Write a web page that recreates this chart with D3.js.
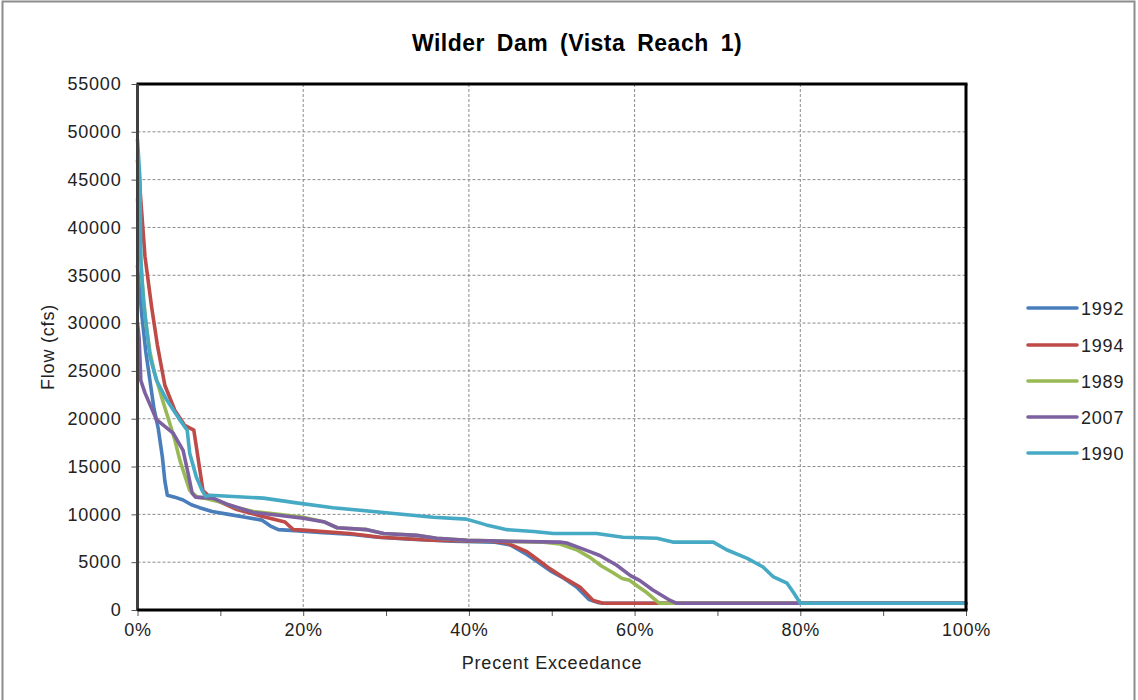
<!DOCTYPE html>
<html><head><meta charset="utf-8">
<script src="https://cdn.jsdelivr.net/npm/d3@7"></script>
<style>body{margin:0;background:#fff;}svg{display:block;font-family:"Liberation Sans",Arial,sans-serif;}</style>
</head><body><svg id="c" width="1138" height="700"></svg>
<script>
const seriesNames = ["1992","1994","1989","2007","1990"];
const seriesColors = ["#4A7EBB","#BE4B48","#98B954","#7D60A0","#46AAC5"];
const yTicks = [0,5000,10000,15000,20000,25000,30000,35000,40000,45000,50000,55000];
const xTickLabels = ["0%","20%","40%","60%","80%","100%"];
// [percent exceedance, flow cfs]
const s1992 = [[0,36000],[0.5,31000],[1,27000],[1.5,24000],[2,21000],[2.5,19000],[3,16000],[3.3,13500],[3.6,12000],[4.5,11800],[5.5,11500],[6.5,11000],[7.5,10700],[9,10300],[11,10000],[13,9700],[15,9400],[16,8800],[17,8400],[19,8300],[22,8100],[26,7900],[29,7600],[33,7400],[38,7200],[43,7100],[45,6800],[47,5800],[48.5,4900],[50,4000],[51.5,3300],[53,2400],[54.5,1100],[55.5,800],[56.2,700],[100,700]];
const s1994 = [[0,47000],[0.3,44000],[0.9,37000],[1.7,31700],[2.4,27700],[3.3,23500],[4.5,20900],[5.7,19300],[6.8,18800],[7.5,14800],[7.9,12500],[8.5,12000],[9.5,11500],[12,10500],[15,9800],[17.8,9200],[18.8,8400],[20,8350],[25.6,8000],[29.3,7600],[35.7,7300],[42.5,7200],[44.6,7000],[47,6100],[47.8,5600],[49.8,4300],[51.8,3200],[53.4,2400],[55,1000],[56.2,700],[100,700]];
const s1989 = [[0,43000],[0.5,35000],[1,30000],[1.5,27000],[2,25000],[3,22000],[3.9,19500],[4.5,17800],[5.1,15700],[6.3,12500],[7.2,11800],[8,11700],[10,11300],[12,10700],[14,10300],[17,10000],[20,9700],[22.6,9200],[24.1,8600],[27.7,8400],[29.7,8000],[33.7,7800],[36.1,7500],[39.8,7300],[43.7,7200],[49,7100],[51,6900],[53,6300],[54.6,5500],[56,4600],[57.4,3900],[58.5,3300],[59.4,3100],[60.5,2400],[61.5,1800],[63,700],[100,700]];
const s2007 = [[0,30000],[0.2,28400],[0.4,24000],[0.9,22700],[2.3,19900],[4.3,18500],[5.5,16700],[6.1,14300],[6.6,12200],[7,11800],[9.1,11700],[11,11000],[14,10200],[17,9900],[20,9600],[22.6,9200],[24.1,8600],[27.7,8400],[29.7,8000],[33.7,7800],[36.1,7500],[39.8,7300],[43.7,7200],[51,7100],[51.8,7000],[53.4,6500],[54.6,6100],[55.8,5700],[57.8,4700],[59.5,3600],[60.6,3100],[62.2,2100],[64.3,1000],[65.1,700],[100,700]];
const s1990 = [[0,49200],[0.3,45000],[0.4,36600],[0.7,32400],[1.5,26500],[2.3,24000],[3.5,22000],[5.1,19900],[6,18800],[6.3,16400],[7.1,13900],[7.8,12500],[8.2,11900],[8.8,12000],[15.2,11700],[19.2,11200],[23.6,10700],[29.7,10200],[35.7,9700],[39.7,9500],[42.1,8900],[44.6,8400],[47.8,8200],[50.2,8000],[55.4,8000],[58.6,7600],[62.7,7500],[64.6,7100],[69.5,7100],[71.1,6300],[73.6,5400],[75.5,4500],[76.7,3500],[78.4,2800],[79.2,1800],[80,700],[100,700]];
const seriesData = [s1992,s1994,s1989,s2007,s1990];

const svg = d3.select("#c");
const L=137.5, R=966, T=84, B=610;
const x = d3.scaleLinear().domain([0,100]).range([L,R]);
const y = d3.scaleLinear().domain([0,55000]).range([B,T]);
const FS = "18px", LS = "0.8px";

// outer border
svg.append("rect").attr("x",2.5).attr("y",1.5).attr("width",1132).attr("height",720)
  .attr("fill","none").attr("stroke","#8c8c8c").attr("stroke-width",2);

// gridlines
const g = svg.append("g");
g.selectAll("line.hy").data(yTicks.filter(v=>v>0&&v<55000)).join("line")
  .attr("x1",L).attr("x2",R).attr("y1",d=>y(d)).attr("y2",d=>y(d))
  .attr("stroke","#8a8a8a").attr("stroke-width",1).attr("stroke-dasharray","3,2");
g.selectAll("line.vx").data([20,40,60,80]).join("line")
  .attr("y1",T).attr("y2",B).attr("x1",d=>x(d)).attr("x2",d=>x(d))
  .attr("stroke","#8a8a8a").attr("stroke-width",1).attr("stroke-dasharray","3,2");

// axes
const yAxis = d3.axisLeft(y).tickValues(yTicks).tickSize(6).tickPadding(10).tickFormat(d3.format("d"));
const ya = svg.append("g").attr("transform",`translate(${L},0)`).call(yAxis);
ya.select(".domain").remove();
ya.selectAll("line").attr("stroke","#555");
ya.selectAll("text").attr("font-size",FS).attr("letter-spacing",LS).attr("fill","#222");

const xAxis = d3.axisBottom(x).tickValues(d3.range(0,101,10)).tickSize(6).tickPadding(7)
  .tickFormat(d=> d%20===0 ? d+"%" : "");
const xa = svg.append("g").attr("transform",`translate(0,${B})`).call(xAxis);
xa.select(".domain").remove();
xa.selectAll("line").attr("stroke","#555");
xa.selectAll("text").attr("font-size",FS).attr("letter-spacing",LS).attr("fill","#222");

// lines
const line = d3.line().x(d=>x(d[0])).y(d=>y(d[1])).curve(d3.curveLinear);
svg.append("g").selectAll("path").data(seriesData).join("path")
  .attr("d",line).attr("fill","none")
  .attr("stroke",(d,i)=>seriesColors[i]).attr("stroke-width",3.6)
  .attr("stroke-linejoin","round").attr("stroke-linecap","round");

// frame
svg.append("line").attr("x1",L-1).attr("x2",R+1.5).attr("y1",T).attr("y2",T).attr("stroke","#000").attr("stroke-width",3);
svg.append("line").attr("x1",R).attr("x2",R).attr("y1",T).attr("y2",B).attr("stroke","#000").attr("stroke-width",3);
svg.append("line").attr("x1",L).attr("x2",L).attr("y1",T).attr("y2",B+1).attr("stroke","#404040").attr("stroke-width",3);
svg.append("line").attr("x1",L).attr("x2",R+1.5).attr("y1",B).attr("y2",B).attr("stroke","#000").attr("stroke-width",3);

// title
svg.append("text").attr("x",577).attr("y",51).attr("text-anchor","middle")
  .attr("font-size","23px").attr("font-weight","bold").attr("fill","#000")
  .attr("letter-spacing","0.5px").attr("word-spacing","5px")
  .text("Wilder Dam (Vista Reach 1)");
// axis titles
svg.append("text").attr("x",552).attr("y",669).attr("text-anchor","middle")
  .attr("font-size",FS).attr("letter-spacing",LS).attr("fill","#222").text("Precent Exceedance");
svg.append("text").attr("transform","translate(54,347) rotate(-90)").attr("text-anchor","middle")
  .attr("font-size",FS).attr("letter-spacing",LS).attr("fill","#222").text("Flow (cfs)");

// legend
const lg = svg.append("g");
const ly = [308,345,381,417,453];
seriesNames.forEach((n,i)=>{
  lg.append("line").attr("x1",1028).attr("x2",1077).attr("y1",ly[i]).attr("y2",ly[i])
    .attr("stroke",seriesColors[i]).attr("stroke-width",3.6).attr("stroke-linecap","round");
  lg.append("text").attr("x",1081).attr("y",ly[i]+6.5).attr("font-size",FS).attr("letter-spacing",LS).attr("fill","#222").text(n);
});
</script></body></html>
